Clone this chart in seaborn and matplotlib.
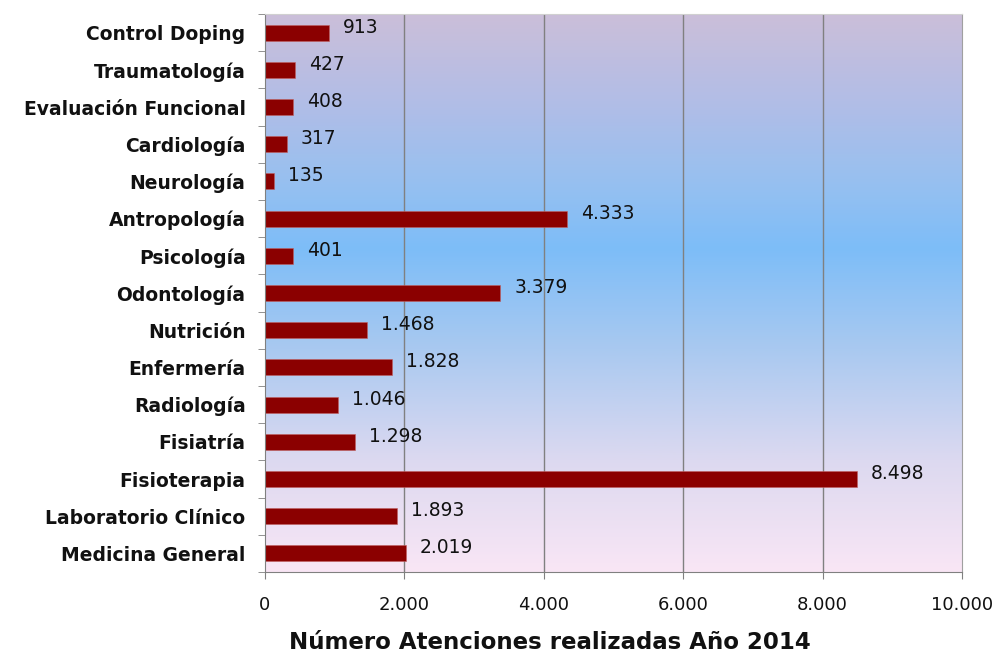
import numpy as np
import pandas as pd
import matplotlib
matplotlib.use("Agg")
import matplotlib.pyplot as plt
from matplotlib.colors import LinearSegmentedColormap
from matplotlib.ticker import FixedLocator, FuncFormatter
import seaborn as sns

especialidades = ["Control Doping", "Traumatología", "Evaluación Funcional",
                  "Cardiología", "Neurología", "Antropología", "Psicología",
                  "Odontología", "Nutrición", "Enfermería", "Radiología",
                  "Fisiatría", "Fisioterapia", "Laboratorio Clínico",
                  "Medicina General"]
atenciones = [913, 427, 408, 317, 135, 4333, 401, 3379, 1468, 1828, 1046,
              1298, 8498, 1893, 2019]
ticks_x = [0, 2000, 4000, 6000, 8000, 10000]

df = pd.DataFrame({"Especialidad": especialidades, "Atenciones": atenciones})


def miles(v, pos=None):
    return f"{int(v):,}".replace(",", ".")


sns.set_style("white")
plt.rcParams["font.family"] = ["DejaVu Sans"]

fig = plt.figure(figsize=(9.95, 6.58), dpi=100)
pos = [0.2663, 0.1307, 0.7005, 0.848]

# fondo degradado
bg = fig.add_axes(pos, zorder=0)
cmap = LinearSegmentedColormap.from_list(
    "fondo", [(0.0, "#cbbfd9"), (0.15, "#b3bde6"), (0.3, "#97c0f0"),
              (0.42, "#7dbdf8"), (0.6, "#a9c9f0"), (0.8, "#dcd9f0"),
              (1.0, "#f9e6f5")])
grad = np.linspace(0, 1, 256).reshape(-1, 1)
bg.imshow(grad, cmap=cmap, aspect="auto", extent=[0, 1, 1, 0])
bg.set_xlim(0, 1)
bg.set_ylim(1, 0)
bg.axis("off")

ax = fig.add_axes(pos, zorder=1)
ax.set_facecolor("none")
sns.barplot(data=df, x="Atenciones", y="Especialidad", orient="h",
            color="#8b0000", width=0.43, saturation=1, ax=ax,
            edgecolor="#c06060", linewidth=0.4)

ax.set_xlim(0, 10000)
ax.set_ylim(len(especialidades) - 0.5, -0.5)
ax.xaxis.set_major_locator(FixedLocator(ticks_x))
ax.xaxis.set_major_formatter(FuncFormatter(miles))
for x in ticks_x[1:-1]:
    ax.axvline(x, color="#808080", lw=1, zorder=0.5)

ax.set_yticks(range(len(especialidades)))
ax.set_yticks(np.arange(-0.5, len(especialidades), 1), minor=True)
ax.tick_params(axis="y", which="major", length=0, pad=14, labelsize=13.5,
               labelcolor="#111111")
ax.tick_params(axis="y", which="minor", length=5, color="#808080",
               direction="out", left=True)
ax.tick_params(axis="x", which="major", length=5, color="#808080",
               direction="out", bottom=True, pad=12, labelsize=13,
               labelcolor="#111111")
for lab in ax.get_yticklabels():
    lab.set_fontweight("bold")

for s in ["left", "bottom"]:
    ax.spines[s].set_color("#808080")
ax.spines["right"].set_color("#a0a0a0")
ax.spines["top"].set_color("#d0d0d0")

for i, v in enumerate(atenciones):
    ax.annotate(miles(v), (v, i), xytext=(10, 4), textcoords="offset points",
                va="center", ha="left", fontsize=13.5, color="#111111")

ax.set_ylabel("")
ax.set_xlabel("Número Atenciones realizadas Año 2014", fontsize=16.5,
              fontweight="bold", color="#111111", va="center")
ax.xaxis.set_label_coords(0.409, -0.127)

fig.savefig("out.png", dpi=100, facecolor="white")
